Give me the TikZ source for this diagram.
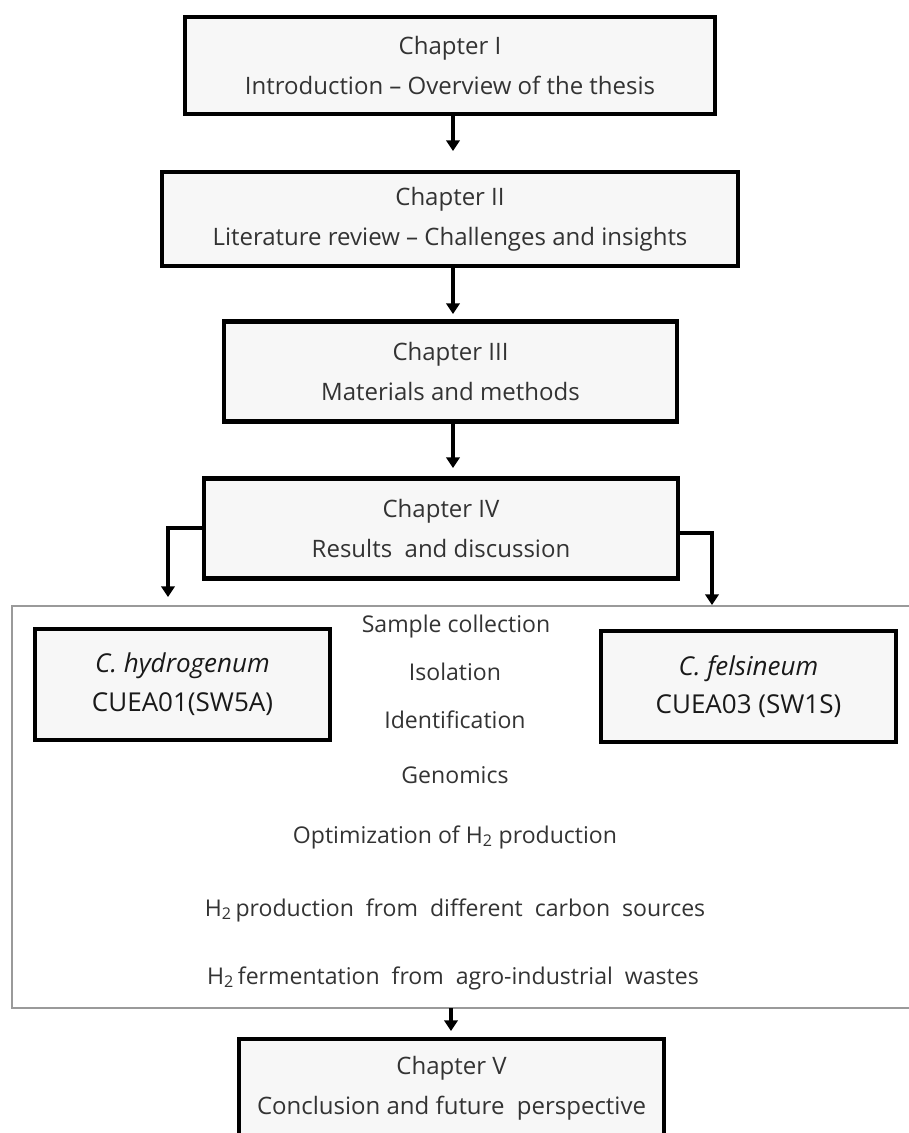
\documentclass[tikz,border=0pt]{standalone}
\usepackage{fontspec}
\setmainfont{Open Sans}
\usetikzlibrary{arrows.meta}
\definecolor{boxfill}{HTML}{F7F7F7}
\definecolor{txtgray}{HTML}{333333}
\definecolor{framegray}{HTML}{9A9A9A}
\begin{document}
\begin{tikzpicture}[x=0.75pt,y=-0.75pt,
  chbox/.style={draw=black, line width=3.2pt, fill=boxfill, rectangle, inner sep=0pt,
    align=center, text=txtgray, font=\fontsize{18}{30}\selectfont},
  spbox/.style={draw=black, line width=3.2pt, fill=boxfill, rectangle, inner sep=0pt,
    align=center, text=black!90, font=\fontsize{19.5}{29}\selectfont,
    minimum width=221pt, minimum height=83pt},
  item/.style={text=txtgray, font=\fontsize{17.3}{20}\selectfont, inner sep=0pt},
  arr/.style={line width=2.8pt, -{Triangle[length=8pt,width=10pt]}}]
\useasboundingbox (0,0) rectangle (908,1133);
% outer frame of chapter IV results
\draw[framegray, line width=1pt] (920,606) -- (12,606) -- (12,1008) -- (920,1008);
% chapter boxes
\node[chbox, minimum width=398pt, minimum height=73pt] (b1) at (450,65.5)
  {Chapter I\\Introduction -- Overview of the thesis};
\node[chbox, minimum width=432pt, minimum height=71pt] (b2) at (450,219)
  {Chapter II\\Literature review -- Challenges and insights};
\node[chbox, minimum width=340pt, minimum height=75pt] (b3) at (450.5,371.5)
  {Chapter III\\Materials and methods};
\node[chbox, minimum width=356pt, minimum height=75pt] (b4) at (441,528.5)
  {Chapter IV\\Results\ \ and discussion};
\node[chbox, minimum width=319pt, minimum height=73pt] (b5) at (451.5,1088)
  {Chapter V\\Conclusion and future\ \ perspective};
% species boxes
\node[spbox] (s1) at (182.5,684.5) {\itshape C. hydrogenum\\CUEA01(SW5A)};
\node[spbox] (s2) at (748.5,686.5) {\itshape C. felsineum\\CUEA03 (SW1S)};
% list items
\node[item] (i1) at (456,626) {Sample collection};
\node[item] (i2) at (455,672) {Isolation};
\node[item] (i3) at (455,720) {Identification};
\node[item] (i4) at (455,775) {Genomics};
\node[item] (i5) at (455,837) {Optimization of H\textsubscript{2} production};
\node[item] (i6) at (455,910) {H\textsubscript{2}\,production\ \ from\ \ different\ \ carbon\ \ sources};
\node[item] (i7) at (453,978) {H\textsubscript{2}\,fermentation\ \ from\ \ agro-industrial\ \ wastes};
% arrow end points
\coordinate (e1) at (453,151);
\coordinate (e2) at (453,314);
\coordinate (e3) at (453,468);
\coordinate (e5) at (451,1031);
\coordinate (eL) at (168,597);
\coordinate (eR) at (712,605);
\coordinate (f5) at (451,1008);
% connectors
\draw[arr] (b1.south -| e1) -- (e1);
\draw[arr] (b2.south -| e2) -- (e2);
\draw[arr] (b3.south -| e3) -- (e3);
\draw[arr] (b4.west |- 0,528) -| (eL);
\draw[arr] (b4.east |- 0,533) -| (eR);
\draw[arr] (f5) -- (e5);
\end{tikzpicture}
\end{document}
